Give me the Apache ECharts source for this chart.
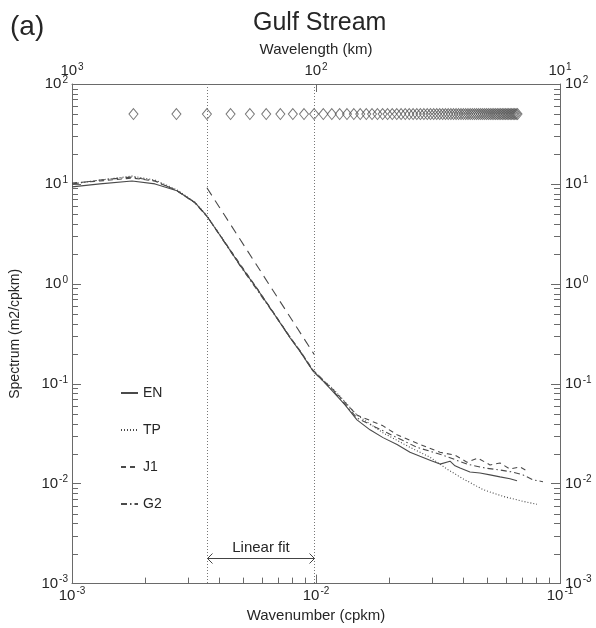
<!DOCTYPE html>
<html><head><meta charset="utf-8">
<script src="https://cdn.jsdelivr.net/npm/echarts@6/dist/echarts.min.js"></script>
<style>html,body{margin:0;padding:0;background:#fff}#c{width:596px;height:628px}</style>
</head><body><div id="c"></div>
<script>
// ---------- data ----------
const seriesNames = ['EN', 'TP', 'J1', 'G2'];

// wavenumbers (cpkm) of the diamond markers (spectral estimates)
const diamondK = [0.000893,0.001786,0.002679,0.003572,0.004465,0.005358,0.006251,0.007144,0.008037,0.00893,
  0.009823,0.010716,0.011609,0.012502,0.013395,0.014288,0.015181,0.016074,0.016967,0.01786,
  0.018753,0.019646,0.020539,0.021432,0.022325,0.023218,0.024111,0.025004,0.025897,0.02679,
  0.027683,0.028576,0.029469,0.030362,0.031255,0.032148,0.033041,0.033934,0.034827,0.03572,
  0.036613,0.037506,0.038399,0.039292,0.040185,0.041078,0.041971,0.042864,0.043757,0.04465,
  0.045543,0.046436,0.047329,0.048222,0.049115,0.050008,0.050901,0.051794,0.052687,0.05358,
  0.054473,0.055366,0.056259,0.057152,0.058045,0.058938,0.059831,0.060724,0.061617,0.06251,
  0.063403,0.064296,0.065189,0.066082,0.066975];
const diamondLevel = 50;

// EN
const enK = [0.001,0.001302,0.001762,0.002189,0.002693,0.003192,0.003574,0.004157,0.004882,0.005731,0.006665,0.007824,0.008598,0.009721,
  0.01068,0.01174,0.01315,0.01472,0.01665,0.01882,0.02148,0.02428,0.02668,0.02933,0.03223,0.03542,0.03713,0.03893,0.04277,0.0470,0.05166,0.05677,0.06239,0.06665];
const enV = [9.35,10.0,10.7,10.0,8.54,6.51,4.75,2.76,1.536,0.893,0.52,0.289,0.211,0.134,
  0.107,0.0835,0.0615,0.0435,0.0346,0.0289,0.0247,0.0206,0.0188,0.0172,0.0157,0.0168,0.0151,0.01435,0.0131,0.0128,0.01225,0.0117,0.0112,0.0107];

// TP
const tpK = [0.001,0.001302,0.001762,0.002189,0.002693,0.003192,0.003574,0.004157,0.004882,0.005731,0.006665,0.007824,0.008598,0.009721,
  0.01068,0.01174,0.01472,0.01882,0.02428,0.02933,0.03443,0.04004,0.04835,0.05841,0.07053,0.08045];
const tpV = [10.0,10.94,11.98,10.94,8.73,6.55,4.8,2.8,1.55,0.9,0.52,0.295,0.213,0.136,
  0.1094,0.0893,0.0486,0.0323,0.0231,0.0184,0.014,0.0112,0.00873,0.00746,0.00666,0.00622];

// J1
const j1K = [0.001,0.001302,0.001762,0.002189,0.002693,0.003192,0.003574,0.004157,0.004882,0.005731,0.006665,0.007824,0.008598,0.009721,
  0.01174,0.01472,0.01882,0.02148,0.02668,0.03223,0.03713,0.04158,0.04613,0.05166,0.05677,0.06239,0.06856,0.07325];
const j1V = [10.23,10.7,11.45,10.7,8.54,6.45,4.72,2.78,1.58,0.9,0.525,0.293,0.215,0.1372,
  0.0873,0.0486,0.0379,0.0309,0.0247,0.0206,0.0193,0.0164,0.018,0.0154,0.0161,0.014,0.0147,0.0134];

// G2
const g2K = [0.001,0.001302,0.001762,0.002189,0.002693,0.003192,0.003574,0.004157,0.004882,0.005731,0.006665,0.007824,0.008598,0.009721,
  0.01174,0.01472,0.01882,0.02148,0.02594,0.03314,0.04158,0.04928,0.05677,0.06357,0.07053,0.0775,0.08517];
const g2V = [10.0,10.94,11.71,10.7,8.54,6.5,4.76,2.74,1.52,0.87,0.515,0.291,0.212,0.134,
  0.0854,0.0454,0.0338,0.0289,0.0231,0.0193,0.0157,0.01435,0.0137,0.0131,0.01225,0.01094,0.01046];

// linear fit line (end points) and fit range
const fitK = [0.003572, 0.009823];
const fitV = [9.14, 0.197];
const arrowLevel = 0.0018;
const fitLabel = 'Linear fit';

// tick values
const xMinor = [0.002,0.003,0.004,0.005,0.006,0.007,0.008,0.009,0.02,0.03,0.04,0.05,0.06,0.07,0.08,0.09];
const yMinor = [0.002,0.003,0.004,0.005,0.006,0.007,0.008,0.009,
  0.02,0.03,0.04,0.05,0.06,0.07,0.08,0.09,
  0.2,0.3,0.4,0.5,0.6,0.7,0.8,0.9,
  2,3,4,5,6,7,8,9,
  20,30,40,50,60,70,80,90];

// ---------- chart ----------
const FONT = '"Liberation Sans", Arial, sans-serif';
const TXT = '#262626';
const LINE = '#4a4a4a';
const AX = '#6a6a6a';

function pairs(k, v) { return k.map((x, i) => [x, v[i]]); }
function powLabel(val) {
  const e = Math.round(Math.log10(val));
  return '{b|10}{s|' + e + '}';
}
const richLab = {
  b: { fontSize: 15, color: TXT, fontFamily: FONT },
  s: { fontSize: 10, color: TXT, fontFamily: FONT, padding: [0, 0, 8, 1] }
};

const chart = echarts.init(document.getElementById('c'), null, { renderer: 'canvas' });

function lineSeries(name, k, v, dash) {
  return {
    name: name, type: 'line', xAxisIndex: 0, yAxisIndex: 0,
    data: pairs(k, v), symbol: 'none', silent: true,
    lineStyle: { color: LINE, width: 1.1, type: dash },
    itemStyle: { color: LINE },
    z: 3
  };
}

const option = {
  animation: false,
  backgroundColor: '#fff',
  textStyle: { fontFamily: FONT },
  title: [
    { text: 'Gulf Stream', left: 253, top: 11, padding: 0,
      textStyle: { fontSize: 25, fontWeight: 'normal', color: TXT, fontFamily: FONT } },
    { text: '(a)', left: 10, top: 13, padding: 0,
      textStyle: { fontSize: 28, fontWeight: 'normal', color: TXT, fontFamily: FONT } }
  ],
  legend: {
    data: seriesNames, orient: 'vertical', left: 120, top: 386,
    itemWidth: 17, itemHeight: 14, itemGap: 23, padding: 0,
    textStyle: { fontSize: 14, color: TXT, fontFamily: FONT },
    itemStyle: { opacity: 0, borderWidth: 0 },
    selectedMode: false
  },
  grid: { left: 72, right: 36, top: 84, bottom: 34, containLabel: false },
  xAxis: [
    { type: 'log', logBase: 10, min: 0.001, max: 0.1, position: 'bottom',
      name: 'Wavenumber (cpkm)', nameLocation: 'middle', nameGap: 18,
      nameTextStyle: { fontSize: 15, color: TXT, fontFamily: FONT },
      axisLine: { lineStyle: { color: AX, width: 1 } },
      axisTick: { inside: true, length: 9, lineStyle: { color: AX } },
      axisLabel: { formatter: powLabel, rich: richLab, margin: 3 },
      splitLine: { show: false } },
    { type: 'log', logBase: 10, min: 10, max: 1000, inverse: true, position: 'top',
      name: 'Wavelength (km)', nameLocation: 'middle', nameGap: 25,
      nameTextStyle: { fontSize: 15, color: TXT, fontFamily: FONT },
      axisLine: { show: true, onZero: false, lineStyle: { color: AX, width: 1 } },
      axisTick: { inside: true, length: 8, lineStyle: { color: AX } },
      axisLabel: { formatter: powLabel, rich: richLab, margin: 4 },
      splitLine: { show: false } }
  ],
  yAxis: [
    { type: 'log', logBase: 10, min: 0.001, max: 100, position: 'left',
      name: 'Spectrum (m2/cpkm)', nameLocation: 'middle', nameGap: 50,
      nameTextStyle: { fontSize: 14, color: TXT, fontFamily: FONT },
      axisLine: { show: true, lineStyle: { color: AX, width: 1 } },
      axisTick: { show: true, inside: true, length: 9, lineStyle: { color: AX } },
      axisLabel: { formatter: powLabel, rich: richLab, margin: 4 },
      splitLine: { show: false } },
    { type: 'log', logBase: 10, min: 0.001, max: 100, position: 'right',
      axisLine: { show: true, lineStyle: { color: AX, width: 1 } },
      axisTick: { show: true, inside: true, length: 9, lineStyle: { color: AX } },
      axisLabel: { formatter: powLabel, rich: richLab, margin: 5 },
      splitLine: { show: false } }
  ],
  series: [
    lineSeries('EN', enK, enV, 'solid'),
    lineSeries('TP', tpK, tpV, [1, 2]),
    lineSeries('J1', j1K, j1V, [5, 4]),
    lineSeries('G2', g2K, g2V, [6, 3, 1.5, 3]),
    { name: 'fit', type: 'line', data: pairs(fitK, fitV), symbol: 'none', silent: true,
      lineStyle: { color: LINE, width: 1.1, type: [9, 6] }, z: 3 },
    { name: 'diamonds', type: 'scatter', data: diamondK.map(k => [k, diamondLevel]),
      symbol: 'diamond', symbolSize: [9, 11], silent: true,
      itemStyle: { color: 'rgba(0,0,0,0)', borderColor: '#555', borderWidth: 1 }, z: 2 },
    { name: 'minorTicks', type: 'custom', silent: true, data: [[0.01, 1]], z: 4,
      renderItem: function (params, api) {
        const cs = params.coordSys;
        const children = [];
        const st = { stroke: AX, lineWidth: 1 };
        xMinor.forEach(function (v) {
          const p = api.coord([v, 1]);
          const x = Math.round(p[0]) + 0.5;
          children.push({ type: 'line', shape: { x1: x, y1: cs.y + cs.height, x2: x, y2: cs.y + cs.height - 6 }, style: st });
        });
        yMinor.forEach(function (v) {
          const p = api.coord([0.01, v]);
          const y = Math.round(p[1]) + 0.5;
          children.push({ type: 'line', shape: { x1: cs.x, y1: y, x2: cs.x + 6, y2: y }, style: st });
          children.push({ type: 'line', shape: { x1: cs.x + cs.width, y1: y, x2: cs.x + cs.width - 6, y2: y }, style: st });
        });
        return { type: 'group', children: children };
      } },
    { name: 'fitArrow', type: 'custom', silent: true, data: [[fitK[0], arrowLevel]], z: 4,
      renderItem: function (params, api) {
        const cs = params.coordSys;
        const a = api.coord([fitK[0], arrowLevel]);
        const b = api.coord([fitK[1], arrowLevel]);
        const y = Math.round(a[1]) + 0.5;
        const xa = Math.round(a[0]) + 0.5, xb = Math.round(b[0]) + 0.5;
        const st = { stroke: '#444', lineWidth: 1, fill: null };
        const dot = { stroke: '#777', lineWidth: 1, lineDash: [1, 2] };
        return { type: 'group', children: [
          { type: 'line', shape: { x1: xa, y1: cs.y, x2: xa, y2: cs.y + cs.height }, style: dot },
          { type: 'line', shape: { x1: xb, y1: cs.y, x2: xb, y2: cs.y + cs.height }, style: dot },
          { type: 'line', shape: { x1: xa, y1: y, x2: xb, y2: y }, style: st },
          { type: 'polyline', shape: { points: [[xa + 5, y - 5], [xa, y], [xa + 5, y + 5]] }, style: st },
          { type: 'polyline', shape: { points: [[xb - 5, y - 5], [xb, y], [xb - 5, y + 5]] }, style: st },
          { type: 'text', x: (xa + xb) / 2, y: y - 3,
            style: { text: fitLabel, fill: TXT, font: '15px ' + FONT, textAlign: 'center', textVerticalAlign: 'bottom' } }
        ] };
      } }
  ]
};
chart.setOption(option);
</script></body></html>
